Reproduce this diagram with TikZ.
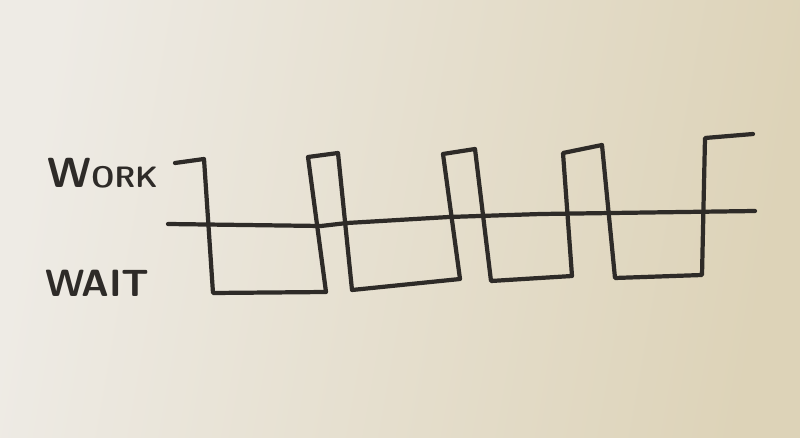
\documentclass[tikz,border=0pt]{standalone}
\usepackage{tikz}
\usepackage{color}
\usetikzlibrary{calc}

\definecolor{paperL}{HTML}{EEEBE5}
\definecolor{paperM}{HTML}{EBE3CC}
\definecolor{paperR}{HTML}{DDD3B8}
\definecolor{ink}{HTML}{2E2B28}

\begin{document}
\begin{tikzpicture}[x=0.025cm, y=-0.025cm,
    pen/.style={color=ink, line width=3pt, line cap=round, line join=round},
    label/.style={color=ink, font=\sffamily\bfseries, inner sep=0pt}]
  \useasboundingbox (0,0) rectangle (800,438);
  \shade[left color=paperL, middle color=paperM, right color=paperR, shading angle=80] (0,0) rectangle (800,438);
  % time axis
  \draw[pen] (168,224) -- (321,226) -- (347,223) -- (449,217) -- (541,214) -- (612,213) -- (755,211);
  % the wave
  \draw[pen] (175,163) -- (204,159) -- (213,293) -- (326,292) -- (308,157) -- (338,153)
    -- (352,290) -- (460,279) -- (443,154) -- (475,149) -- (491,281) -- (572,276)
    -- (563,153) -- (602,145) -- (615,278) -- (702,275) -- (705,138) -- (753,134);
\node[label, anchor=base west] (work) at (47,188) {\fontsize{30}{30}\selectfont W\fontsize{21}{21}\selectfont ORK};
\node[label, anchor=base west] (wait) at (45,297) {\fontsize{27}{27}\selectfont WAIT};
\end{tikzpicture}
\end{document}
